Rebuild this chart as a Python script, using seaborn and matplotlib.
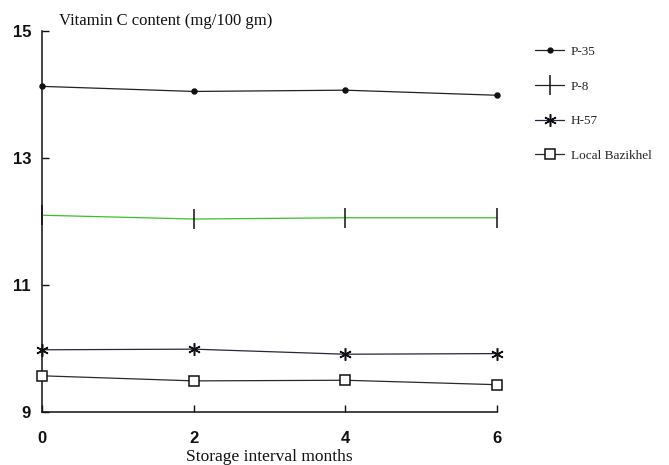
import matplotlib
matplotlib.use("Agg")
import matplotlib.pyplot as plt
import seaborn as sns
import pandas as pd
from matplotlib.lines import Line2D

# storage interval (months)
months = [0, 2, 4, 6]

# vitamin C content (mg/100 gm)
p35 = [14.13, 14.05, 14.07, 13.99]
p8 = [12.10, 12.04, 12.06, 12.06]
h57 = [9.98, 9.99, 9.91, 9.92]
local_bazikhel = [9.57, 9.49, 9.50, 9.43]

varieties = ["P-35", "P-8", "H-57", "Local Bazikhel"]
series = [p35, p8, h57, local_bazikhel]

y_ticks = [9, 11, 13, 15]

df = pd.DataFrame(
    [(v, m, c) for v, vals in zip(varieties, series) for m, c in zip(months, vals)],
    columns=["variety", "month", "vitc"],
)

sns.set_theme(style="white")
plt.rcParams["font.family"] = ["Liberation Serif", "DejaVu Serif"]

fig = plt.figure(figsize=(6.69, 4.65), dpi=100)
ax = fig.add_axes([0.063, 0.114, 0.68, 0.819])

line_colors = {"P-35": "#222222", "P-8": "#3cbf2a", "H-57": "#2a2440", "Local Bazikhel": "#2a2a2a"}
markers = {"P-35": "o", "P-8": "|", "H-57": (6, 2, 0), "Local Bazikhel": "s"}
msizes = {"P-35": 3.5, "P-8": 14, "H-57": 9, "Local Bazikhel": 7}

for v in varieties:
    sub = df[df["variety"] == v]
    sns.lineplot(
        data=sub, x="month", y="vitc", color=line_colors[v], marker=markers[v],
        markersize=msizes[v], markeredgecolor="#111111", markeredgewidth=1.1,
        markerfacecolor="white" if v == "Local Bazikhel" else "#111111",
        linewidth=0.9, ax=ax, clip_on=False, zorder=3,
    )

ax.set_xlim(0, 6)
ax.set_ylim(9, 15)
ax.set_xticks(months)
ax.set_yticks(y_ticks)
ax.set_xticklabels([str(m) for m in months], fontfamily="Liberation Sans", fontweight="bold", fontsize=12)
ax.set_yticklabels([str(t) for t in y_ticks], fontfamily="Liberation Sans", fontweight="bold", fontsize=12)
ax.tick_params(axis="both", direction="in", length=5, width=1, colors="#111111",
               bottom=True, left=True, pad=8)
ax.tick_params(axis="x", pad=14)

for s in ["top", "right"]:
    ax.spines[s].set_visible(False)
for s in ["left", "bottom"]:
    ax.spines[s].set_color("#111111")
    ax.spines[s].set_linewidth(1.1)

ax.set_xlabel("Storage interval months", fontsize=12.5, color="#111111", labelpad=2)
ax.set_ylabel("")
fig.text(0.088, 0.955, "Vitamin C content (mg/100 gm)", fontsize=12, color="#111111", va="center")

handles = [
    Line2D([], [], color="#222222", lw=0.9, marker="o", ms=3.5, mfc="#111111", mec="#111111"),
    Line2D([], [], color="#222222", lw=0.9, marker="|", ms=14, mec="#111111", mew=1.1),
    Line2D([], [], color="#2a2440", lw=0.9, marker=(6, 2, 0), ms=9, mec="#111111", mew=1.1),
    Line2D([], [], color="#2a2a2a", lw=0.9, marker="s", ms=7, mfc="white", mec="#111111", mew=1.1),
]
fig.legend(
    handles, varieties, loc="upper left", bbox_to_anchor=(0.782, 0.927),
    frameon=False, fontsize=9.5, handlelength=2.2, labelspacing=1.7, handletextpad=0.5,
)

fig.savefig("out.png", dpi=100)
